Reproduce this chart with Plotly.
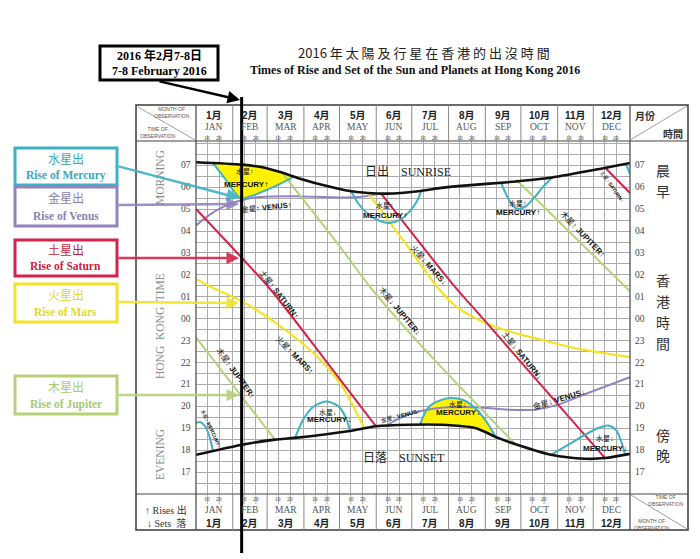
import plotly.graph_objects as go

W, H = 700, 559

# ---------------- data : day of year 2016 (0 = 1 Jan) and local clock hour ----------------
month_en = ["JAN", "FEB", "MAR", "APR", "MAY", "JUN", "JUL", "AUG", "SEP", "OCT", "NOV", "DEC"]
month_zh = ["1月", "2月", "3月", "4月", "5月", "6月", "7月", "8月", "9月", "10月", "11月", "12月"]
month_start = [0, 31, 60, 91, 121, 152, 182, 213, 244, 274, 305, 335, 366]
hour_labels = ["07", "06", "05", "04", "03", "02", "01", "00", "23", "22", "21", "20", "19", "18", "17"]
obs_day = 38.5  # 7-8 February

sunrise_day = [0, 38.8, 54.8, 71.7, 88.5, 111.3, 128.2, 145, 161.9, 187.2, 206.6, 218.4, 263.1, 296.8, 336.5, 366]
sunrise_hr = [7.14, 7.03, 6.92, 6.68, 6.38, 6.04, 5.84, 5.74, 5.71, 5.82, 5.97, 6.04, 6.23, 6.42, 6.80, 7.11]

sunset_day = [0, 38.8, 66.6, 83.5, 128.2, 151.8, 178.8, 206.6, 235.3, 254.7, 269, 299.4, 328, 345, 366]
sunset_hr = [17.79, 18.25, 18.48, 18.56, 18.86, 19.09, 19.16, 19.16, 19.01, 18.56, 18.28, 17.79, 17.61, 17.64, 17.83]

mercury_rise1_day = [14.3, 25.3, 33.7, 37.9, 48.1, 60.7, 73.4, 82.6]
mercury_rise1_hr = [7.10, 6.33, 5.69, 5.49, 5.62, 5.90, 6.22, 6.49]
mercury_rise2_day = [130.7, 136.6, 145, 155.2, 162.8, 172, 180.5, 186.4, 189.7]
mercury_rise2_hr = [5.84, 5.28, 4.78, 4.46, 4.37, 4.51, 4.92, 5.37, 5.80]
mercury_rise3_day = [257.2, 263.1, 268.2, 272.4, 278.3, 285, 292.6, 301.1]
mercury_rise3_hr = [6.20, 5.51, 5.10, 5.01, 5.14, 5.51, 6.01, 6.49]
mercury_rise4_day = [362.6, 366]
mercury_rise4_hr = [7.06, 6.61]

mercury_set1_day = [0, 3.4, 7.6, 11, 14.3]
mercury_set1_hr = [19.24, 19.29, 19.10, 18.69, 17.97]
mercury_set2_day = [83.5, 90.2, 98.7, 109.6, 119.7, 126.5, 129.9]
mercury_set2_hr = [18.56, 19.38, 19.97, 20.22, 20.02, 19.47, 18.88]
mercury_set3_day = [188.9, 195.6, 204.1, 215, 225.2, 235.3, 244.6, 253]
mercury_set3_hr = [19.17, 19.93, 20.24, 20.38, 20.29, 19.93, 19.33, 18.58]
mercury_set4_day = [299.4, 313.7, 326.4, 339, 347.4, 354.2, 358.4, 361.8]
mercury_set4_hr = [17.79, 18.24, 18.65, 19.01, 19.13, 18.92, 18.42, 17.80]

venus_rise_day = [0, 10.1, 22.8, 38.8, 54.8, 83.5, 122.3, 140.8, 156]
venus_rise_hr = [4.25, 4.69, 5.10, 5.42, 5.56, 5.59, 5.53, 5.58, 5.72]
venus_set_day = [159.4, 170.3, 178.8, 201.5, 235.3, 263.1, 285.9, 305.3, 330.6, 366]
venus_set_hr = [19.09, 19.42, 19.63, 19.90, 19.96, 19.85, 19.85, 20.08, 20.61, 21.33]

saturn_rise1_day = [0, 38.8, 63.2, 107.1, 151.8]
saturn_rise1_hr = [5.01, 2.77, 1.31, 22.25, 19.09]
saturn_set_day = [156, 218.4, 243.7, 344.9]
saturn_set_hr = [5.72, 1.45, 23.90, 17.64]
saturn_rise2_day = [344.9, 366]
saturn_rise2_hr = [6.90, 5.74]

mars_rise_day = [0, 12.6, 38.8, 69.2, 100.4, 122.3, 142.5]
mars_rise_hr = [1.81, 1.45, 0.79, 23.73, 22.36, 20.99, 18.93]
mars_set_day = [145, 174.6, 204.1, 220.9, 240.3, 263.1, 290.9, 319.6, 366]
mars_set_hr = [5.74, 3.59, 1.40, 0.49, 23.90, 23.44, 23.04, 22.66, 22.25]

jupiter_rise1_day = [0, 66.6]
jupiter_rise1_hr = [23.15, 18.48]
jupiter_set_day = [72.5, 119.7, 147.6, 195.6, 269.9]
jupiter_set_hr = [6.67, 3.41, 1.40, 22.44, 18.24]
jupiter_rise2_day = [269.9, 366]
jupiter_rise2_hr = [6.35, 1.25]


# ---------------- helpers ----------------
def v(hours):
    """clock hour -> vertical axis value (hours after 17:00)"""
    return [(h - 17) % 24 for h in hours]


def px(x):
    return x / W


def py(y):
    return 1 - y / H


SERIF = "Liberation Serif, Times New Roman, Noto Sans CJK TC, serif"
SANS = "Liberation Sans, Arial, Noto Sans CJK TC, sans-serif"
CJK = "Noto Sans CJK TC, sans-serif"

C_MER = "#3fb1c4"
C_VEN = "#9283bd"
C_SAT = "#d5224a"
C_MAR = "#f3e325"
C_JUP = "#b5d27a"
C_FILL = "#fff200"

fig = go.Figure()

# yellow visibility fills (Mercury curve closed back along the Sun curve)
f1x = mercury_rise1_day + [d for d in sunrise_day if mercury_rise1_day[0] < d < mercury_rise1_day[-1]][::-1]
f1y = v(mercury_rise1_hr) + v([h for d, h in zip(sunrise_day, sunrise_hr) if mercury_rise1_day[0] < d < mercury_rise1_day[-1]][::-1])
f2x = mercury_set3_day + [d for d in sunset_day if mercury_set3_day[0] < d < mercury_set3_day[-1]][::-1]
f2y = v(mercury_set3_hr) + v([h for d, h in zip(sunset_day, sunset_hr) if mercury_set3_day[0] < d < mercury_set3_day[-1]][::-1])
for fx, fy in [(f1x, f1y), (f2x, f2y)]:
    fig.add_trace(go.Scatter(x=fx, y=fy, fill="toself", fillcolor=C_FILL, mode="lines",
                             line=dict(width=0, color=C_FILL, shape="spline", smoothing=0.6),
                             hoverinfo="skip", showlegend=False))

series = [
    (venus_rise_day, venus_rise_hr, C_VEN, 2),
    (venus_set_day, venus_set_hr, C_VEN, 2),
    (jupiter_rise1_day, jupiter_rise1_hr, C_JUP, 2),
    (jupiter_set_day, jupiter_set_hr, C_JUP, 2),
    (jupiter_rise2_day, jupiter_rise2_hr, C_JUP, 2),
    (mars_rise_day, mars_rise_hr, C_MAR, 2.2),
    (mars_set_day, mars_set_hr, C_MAR, 2.2),
    (saturn_rise1_day, saturn_rise1_hr, C_SAT, 2),
    (saturn_set_day, saturn_set_hr, C_SAT, 2),
    (saturn_rise2_day, saturn_rise2_hr, C_SAT, 2),
    (mercury_rise1_day, mercury_rise1_hr, C_MER, 2),
    (mercury_rise2_day, mercury_rise2_hr, C_MER, 2),
    (mercury_rise3_day, mercury_rise3_hr, C_MER, 2),
    (mercury_rise4_day, mercury_rise4_hr, C_MER, 2),
    (mercury_set1_day, mercury_set1_hr, C_MER, 2),
    (mercury_set2_day, mercury_set2_hr, C_MER, 2),
    (mercury_set3_day, mercury_set3_hr, C_MER, 2),
    (mercury_set4_day, mercury_set4_hr, C_MER, 2),
    (sunrise_day, sunrise_hr, "#111111", 2.6),
    (sunset_day, sunset_hr, "#111111", 2.6),
]
for dx, hy, col, wd in series:
    fig.add_trace(go.Scatter(x=dx, y=v(hy), mode="lines",
                             line=dict(color=col, width=wd, shape="spline", smoothing=0.8),
                             hoverinfo="skip", showlegend=False))

# grid positions
tens = [m + 9.5 for m in month_start[:12]]
twenties = [m + 19.5 for m in month_start[:12]]
xgrid = month_start[1:12] + tens + twenties
ygrid = [-1 + 0.5 * k for k in range(33)]

fig.update_layout(
    width=W, height=H, margin=dict(l=0, r=0, t=0, b=0, pad=0),
    paper_bgcolor="white", plot_bgcolor="white",
    xaxis=dict(domain=[px(188), px(622)], range=[0, 366], tickvals=xgrid, showticklabels=False,
               showgrid=True, gridcolor="#ababab", gridwidth=1, zeroline=False, showline=False, ticks=""),
    yaxis=dict(domain=[py(486), py(133)], range=[-1, 15.11], tickvals=ygrid, showticklabels=False,
               showgrid=True, gridcolor="#ababab", gridwidth=1, zeroline=False, showline=False, ticks=""),
)

shapes = []
ann = []


def pline(x0, y0, x1, y1, color="#444", width=1.2):
    shapes.append(dict(type="line", xref="paper", yref="paper", x0=px(x0), y0=py(y0), x1=px(x1), y1=py(y1),
                       line=dict(color=color, width=width)))


def txt(s, x, y, size, color="#222", family=SERIF, angle=0, xanchor="center", yanchor="middle", xref="paper",
        yref="paper"):
    ann.append(dict(text=s, x=px(x) if xref == "paper" else x, y=py(y) if yref == "paper" else y,
                    xref=xref, yref=yref, showarrow=False, textangle=angle, xanchor=xanchor, yanchor=yanchor,
                    borderpad=0, font=dict(size=size, color=color, family=family)))


# table frame
shapes.append(dict(type="rect", xref="paper", yref="paper", x0=px(128), y0=py(97), x1=px(680), y1=py(522),
                   line=dict(color="#3a3a3a", width=1.5)))
pline(188, 97, 188, 522)
pline(622, 97, 622, 522)
pline(128, 133, 680, 133)
pline(128, 486, 680, 486)
pline(130, 99, 187, 132, "#888", 0.8)
pline(622, 132, 679, 98, "#888", 0.8)
pline(623, 487, 679, 521, "#888", 0.8)

# month separators in header / footer, and 10/20 day ticks
for m in month_start[1:12]:
    for y0, y1 in [(97, 133), (486, 522)]:
        shapes.append(dict(type="line", xref="x", yref="paper", x0=m, x1=m, y0=py(y0), y1=py(y1),
                           line=dict(color="#888", width=1)))
for d in tens + twenties:
    for y0, y1 in [(127, 133), (486, 496)]:
        shapes.append(dict(type="line", xref="x", yref="paper", x0=d, x1=d, y0=py(y0), y1=py(y1),
                           line=dict(color="#ababab", width=1)))

# observation date line
shapes.append(dict(type="line", xref="x", yref="paper", x0=obs_day, x1=obs_day, y0=py(545), y1=py(89),
                   line=dict(color="#000", width=3)))

# header / footer month labels
for i in range(12):
    c = (month_start[i] + month_start[i + 1]) / 2
    txt("<b>%s</b>" % month_zh[i], c, 107, 10, "#222", SANS, xref="x")
    txt(month_en[i], c, 119, 9.5, "#555", SERIF, xref="x")
    txt("<b>%s</b>" % month_zh[i], c, 515, 10, "#222", SANS, xref="x")
    txt(month_en[i], c, 502, 9.5, "#555", SERIF, xref="x")
    for d, lab in [(tens[i], "10"), (twenties[i], "20")]:
        txt(lab, d, 129.5, 5.5, "#444", SERIF, xref="x")
        txt(lab, d, 490.5, 5.5, "#444", SERIF, xref="x")

# hour labels on both sides
for i, lab in enumerate(hour_labels):
    txt(lab, 178, 14 - i, 9.5, "#444", SERIF, yref="y")
    txt(lab, 632, 14 - i, 9.5, "#444", SERIF, yref="y")

# corner texts
txt("MONTH OF<br>OBSERVATION", 183, 104, 5, "#555", SANS, xanchor="right")
txt("TIME OF<br>OBSERVATION", 131, 124, 5, "#555", SANS, xanchor="left")
txt("<b>月份</b>", 626, 107, 10, "#333", CJK, xanchor="left")
txt("<b>時間</b>", 676, 125, 10, "#333", CJK, xanchor="right")
txt("TIME OF<br>OBSERVATION", 677, 492, 5, "#555", SANS, xanchor="right")
txt("MONTH OF<br>OBSERVATION", 625, 516, 5, "#555", SANS, xanchor="left")
txt("↑ Rises 出", 158, 502, 10, "#333", SERIF)
txt("↓ Sets  落", 158, 515, 10, "#333", SERIF)

# side captions
txt("MORNING", 152, 170, 11.5, "#8a8a8a", SERIF, angle=-90)
txt("HONG  KONG  TIME", 152, 318, 11.5, "#8a8a8a", SERIF, angle=-90)
txt("EVENING", 152, 447, 11.5, "#8a8a8a", SERIF, angle=-90)
for ch, y in [("晨", 162), ("早", 183), ("香", 272), ("港", 293), ("時", 314), ("間", 335), ("傍", 427), ("晚", 447)]:
    txt(ch, 655, y, 14, "#333", CJK)

# titles
txt("2016 年 太 陽 及 行 星 在 香 港 的 出 沒 時 間", 416, 45, 13, "#222", CJK)
txt("<b>Times of Rise and Set of the Sun and Planets at Hong Kong 2016</b>", 407, 62, 12, "#111", SERIF)

# date box
shapes.append(dict(type="rect", xref="paper", yref="paper", x0=px(92), y0=py(38), x1=px(210), y1=py(72),
                   line=dict(color="#000", width=3), fillcolor="white"))
txt("<b>2016 年2月7-8日</b>", 151, 47, 12, "#000", SERIF)
txt("<b>7-8 February 2016</b>", 151, 63, 12, "#000", SERIF)
ann.append(dict(x=px(232), y=py(92), xref="paper", yref="paper", ax=150 - 232, ay=73 - 92, axref="pixel",
                ayref="pixel", showarrow=True, arrowhead=2, arrowsize=1, arrowwidth=2.5, arrowcolor="#000", text=""))

# legend boxes with arrows
legend = [
    ("水星出", "Rise of Mercury", C_MER, "#3aa8bb", 140, 177, 158, 190),
    ("金星出", "Rise of Venus", C_VEN, "#8a7fb5", 179, 218, 197, 196),
    ("土星出", "Rise of Saturn", C_SAT, "#c81f40", 232, 268, 250, 250),
    ("火星出", "Rise of Mars", C_MAR, "#e5d72a", 276, 314, 294, 295),
    ("木星出", "Rise of Jupiter", C_JUP, "#a9c878", 368, 406, 387, 387),
]
for zh, en, col, tcol, y0, y1, ya, yb in legend:
    shapes.append(dict(type="rect", xref="paper", yref="paper", x0=px(7), y0=py(y0), x1=px(109), y1=py(y1),
                       line=dict(color=col, width=3), fillcolor="white"))
    txt(zh, 58, y0 + 10, 12, tcol, CJK)
    txt("<b>%s</b>" % en, 58, y1 - 10, 11.5, tcol, SERIF)
    ann.append(dict(x=px(231), y=py(yb), xref="paper", yref="paper", ax=109 - 231, ay=ya - yb, axref="pixel",
                    ayref="pixel", showarrow=True, arrowhead=2, arrowsize=1, arrowwidth=2.5, arrowcolor=col,
                    opacity=0.9, text=""))

# labels on curves
LB = "Liberation Sans, Arial, Noto Sans CJK TC, sans-serif"
curve_labels = [
    ("水星↑", 237, 163, 0, 7),
    ("<b>MERCURY↑</b>", 238, 176.5, 0, 8),
    ("金星↑ <b>VENUS↑</b>", 258, 199, -6, 7.5),
    ("水星↑", 377, 197, 0, 7),
    ("<b>MERCURY↑</b>", 377, 207, 0, 8),
    ("水星↑", 510, 194.5, 0, 7),
    ("<b>MERCURY↑</b>", 510, 204.5, 0, 8),
    ("土星↑ <b>SATURN↑</b>", 271, 286, 52, 8),
    ("火星↑ <b>MARS↑</b>", 287, 347, 45, 8),
    ("木星↑ <b>JUPITER↑</b>", 228, 365, 54, 8),
    ("水星↓ <b>MERCURY↓</b>", 203, 420, 65, 5),
    ("水星↓", 320, 404, 0, 7),
    ("<b>MERCURY↓</b>", 321, 411.5, 0, 8),
    ("金星↓ <b>VENUS↓</b>", 392, 407, -15, 6),
    ("水星↓", 450, 395.5, 0, 7),
    ("<b>MERCURY↓</b>", 450, 404, 0, 8),
    ("金星↓ <b>VENUS↓</b>", 551, 391, -17, 8),
    ("土星↓ <b>SATURN↓</b>", 514, 347, 51, 8),
    ("水星↓", 597, 430, 0, 7),
    ("<b>MERCURY↓</b>", 597, 440, 0, 8),
    ("木星↓ <b>JUPITER↓</b>", 392, 303, 50, 8),
    ("火星↓ <b>MARS↓</b>", 421, 257, 48, 8),
    ("木星↑ <b>JUPITER↑</b>", 575, 226, 46, 8),
    ("土星↑ <b>SATURN↑</b>", 604, 178, 55, 5),
]
for s, x, y, a, sz in curve_labels:
    txt(s, x, y, sz, "#111", LB, angle=a)

txt("日出　SUNRISE", 400, 164, 12, "#222", SERIF)
txt("日落　SUNSET", 396, 450, 12, "#222", SERIF)

fig.update_layout(shapes=shapes, annotations=ann)
fig.write_html("out.html")
